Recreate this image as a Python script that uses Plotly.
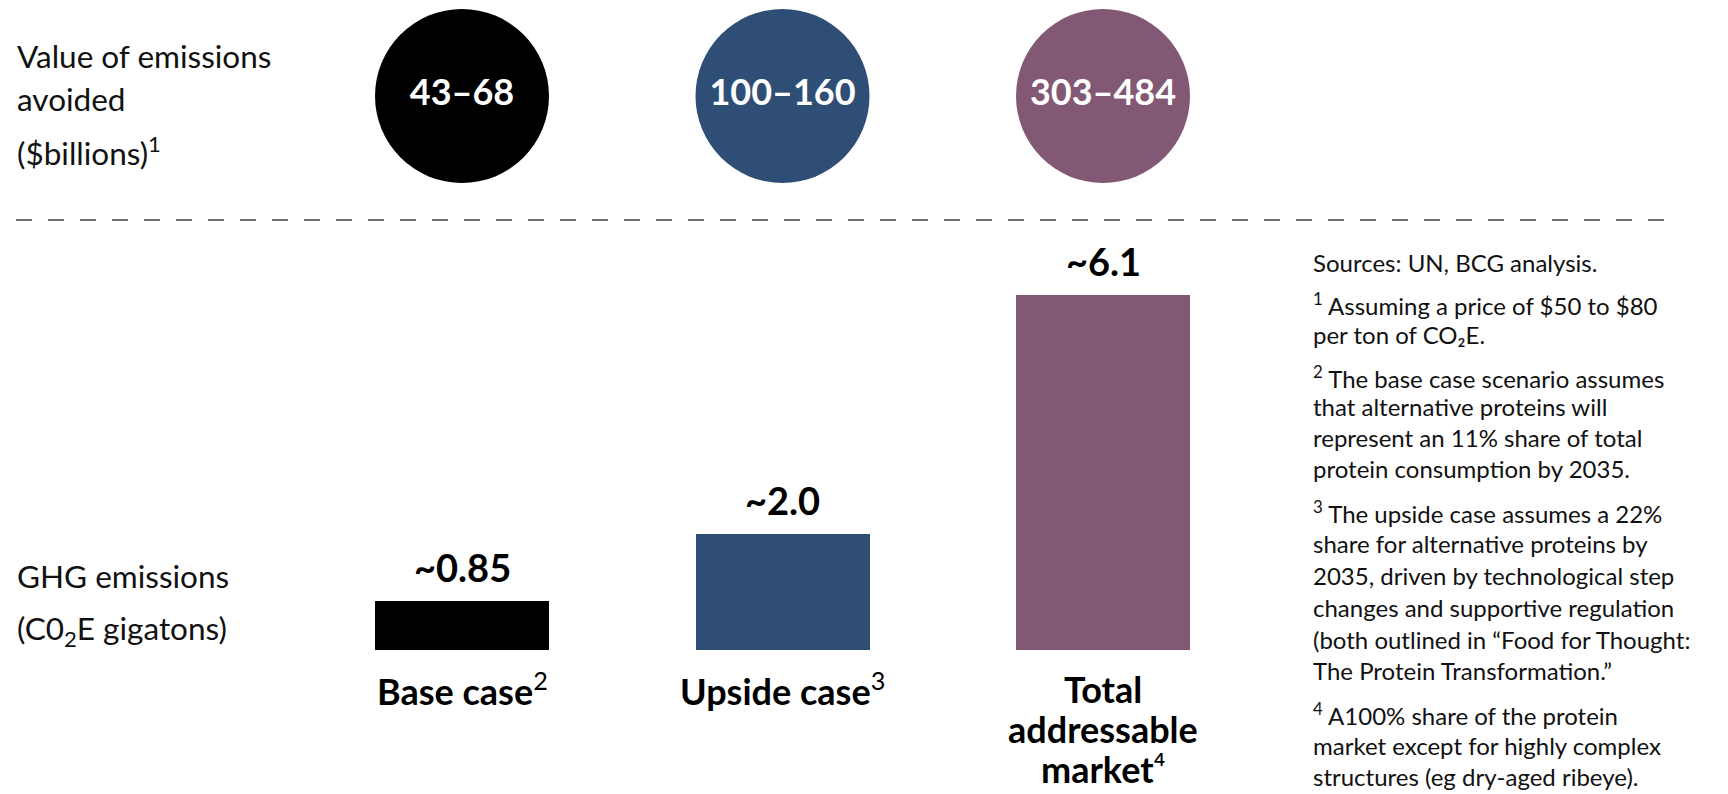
import plotly.graph_objects as go

# ---------------- data ----------------
categories = ["Base case", "Upside case", "Total addressable market"]
category_label_lines = [["<b>Base case</b><sup>2</sup>"],
                        ["<b>Upside case</b><sup>3</sup>"],
                        ["<b>Total</b>", "<b>addressable</b>", "<b>market</b>⁴"]]
ghg_values = [0.85, 2.0, 6.1]
ghg_labels = ["~0.85", "~2.0", "~6.1"]
value_ranges = ["43–68", "100–160", "303–484"]
colors = ["#000000", "#2e4e75", "#835875"]

notes = [
    ["Sources: UN, BCG analysis."],
    ["<sup>1</sup> Assuming a price of $50 to $80", "per ton of CO₂E."],
    ["<sup>2</sup> The base case scenario assumes", "that alternative proteins will",
     "represent an 11% share of total", "protein consumption by 2035."],
    ["<sup>3</sup> The upside case assumes a 22%", "share for alternative proteins by",
     "2035, driven by technological step", "changes and supportive regulation",
     "(both outlined in “Food for Thought:", "The Protein Transformation.”"],
    ["<sup>4</sup> A100% share of the protein", "market except for highly complex",
     "structures (eg dry-aged ribeye)."],
]

# ---------------- layout constants ----------------
W, H = 1728, 794
FONT = "Lato"
x_pos = list(range(len(categories)))
PX_PER_X = 320.5
PX_PER_Y = 58.2
BASE_PX = 650
FIRST_CENTER_PX = 462
xmin = -FIRST_CENTER_PX / PX_PER_X
xmax = xmin + W / PX_PER_X
ymax = BASE_PX / PX_PER_Y
ymin = -(H - BASE_PX) / PX_PER_Y
CIRCLE_Y = (BASE_PX - 96) / PX_PER_Y


def py(p):
    return 1 - p / H


def px(p):
    return p / W


fig = go.Figure()

fig.add_trace(go.Bar(
    x=x_pos, y=ghg_values, width=174 / PX_PER_X,
    marker=dict(color=colors, line=dict(width=0)),
    hoverinfo="skip", showlegend=False,
))

fig.add_trace(go.Scatter(
    x=x_pos, y=[CIRCLE_Y] * len(x_pos), mode="markers+text",
    marker=dict(size=174, color=colors, line=dict(width=0)),
    text=[f"<b>{v}</b>" for v in value_ranges], textposition="middle center",
    textfont=dict(family=FONT, size=36, color="white"),
    hoverinfo="skip", showlegend=False, cliponaxis=False,
))

annotations = []
for xi, v, lab in zip(x_pos, ghg_values, ghg_labels):
    annotations.append(dict(x=xi, y=v, xref="x", yref="y", text=f"<b>{lab}</b>",
                            showarrow=False, yanchor="middle", yshift=34,
                            font=dict(family=FONT, size=38, color="#000")))
for xi, lines in zip(x_pos, category_label_lines):
    for k, t in enumerate(lines):
        annotations.append(dict(x=xi, y=0, xref="x", yref="y", text=t,
                                showarrow=False, yanchor="middle", yshift=-(39 + 40 * k),
                                font=dict(family=FONT, size=36, color="#000")))

left_lines = [("Value of emissions", 56), ("avoided", 99), ("($billions)<sup>1</sup>", 151),
              ("GHG emissions", 576), ("(C0<sub>2</sub>E gigatons)", 630)]
for t, yp in left_lines:
    annotations.append(dict(x=px(15), y=py(yp), xref="paper", yref="paper", text=t,
                            showarrow=False, xanchor="left", yanchor="middle",
                            font=dict(family=FONT, size=31.5, color="#111")))

note_centers = [[262], [304, 334], [377, 407, 438, 468],
                [512, 543, 575, 607, 639, 670], [714, 745, 776]]
for para, ys in zip(notes, note_centers):
    for t, yp in zip(para, ys):
        annotations.append(dict(x=px(1311), y=py(yp), xref="paper", yref="paper", text=t,
                                showarrow=False, xanchor="left", yanchor="middle",
                                font=dict(family=FONT, size=24, color="#111")))

fig.add_shape(type="line", xref="paper", yref="paper",
              x0=px(16), x1=px(1664), y0=py(220), y1=py(220),
              line=dict(color="#707070", width=2, dash="16px,16px"))

fig.update_layout(
    width=W, height=H, margin=dict(l=0, r=0, t=0, b=0),
    paper_bgcolor="white", plot_bgcolor="white",
    xaxis=dict(range=[xmin, xmax], visible=False, fixedrange=True),
    yaxis=dict(range=[ymin, ymax], visible=False, fixedrange=True),
    annotations=annotations, bargap=0,
)

fig.write_html("out.html", config={"displayModeBar": False})
